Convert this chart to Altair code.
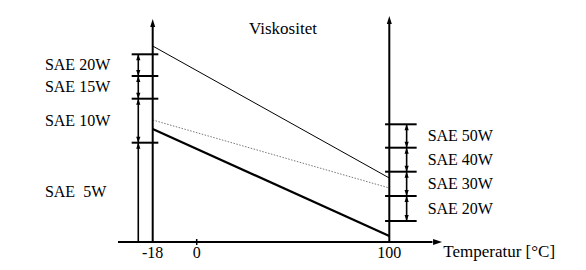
import altair as alt
import pandas as pd

# ---- chart values (schematic units) ----
temps = [-18, 100]
thin_line = [196, 64]
dotted_line = [122, 54]
thick_line = [113, 6]

tick_values = [-18, 0, 100]
tick_labels = ["-18", "0", "100"]

left_grades = ["SAE 20W", "SAE 15W", "SAE 10W", "SAE\u00a0\u00a05W"]
left_bounds = [187.7, 166, 143.3, 99.3, 0]
right_grades = ["SAE 50W", "SAE 40W", "SAE 30W", "SAE 20W"]
right_bounds = [117.7, 94.3, 70.3, 46, 21]

title_text = "Viskositet"
x_title = "Temperatur [°C]"

# ---- schematic geometry (data units) ----
AX_LEFT_TOP, AX_RIGHT_TOP = 223, 226
H_AXIS_START, H_AXIS_END = -32.2, 127.4
LEFT_BAR_X, RIGHT_BAR_X = -23.9, 109
LEFT_TICK = (-26.6, -15.7)
RIGHT_TICK = (97.8, 114.2)
LEFT_LABEL_X, RIGHT_LABEL_X = -62.1, 119.9
XTITLE_X, XTITLE_Y = 128, -15
TICKLAB_Y = -16
TITLE_X, TITLE_Y = 44.8, 208

FONT = "'Liberation Serif', 'DejaVu Serif', serif"

XS = alt.Scale(domain=[-18, 0, 100], range=[152.7, 196.7, 389.3], nice=False, zero=False)
YS = alt.Scale(domain=[-28, 242], nice=False, zero=False)


def X(f="x"):
    return alt.X(f"{f}:Q", scale=XS, axis=None)


def Y(f="y"):
    return alt.Y(f"{f}:Q", scale=YS, axis=None)


def X2(f="x2"):
    return alt.X2(f"{f}:Q")


def Y2(f="y2"):
    return alt.Y2(f"{f}:Q")


def line_df(vals):
    return pd.DataFrame({"x": temps, "y": vals})


thin = alt.Chart(line_df(thin_line)).mark_line(color="black", strokeWidth=1).encode(x=X(), y=Y())
dotted = alt.Chart(line_df(dotted_line)).mark_line(
    color="#777777", strokeWidth=1, strokeDash=[1.5, 1.5]).encode(x=X(), y=Y())
thick = alt.Chart(line_df(thick_line)).mark_line(color="black", strokeWidth=2.2).encode(x=X(), y=Y())

# axes lines
vert_axes = pd.DataFrame({
    "x": [-18, 100], "y": [0, 0], "y2": [AX_LEFT_TOP - 5, AX_RIGHT_TOP - 5]})
vaxes = alt.Chart(vert_axes).mark_rule(color="black", strokeWidth=2).encode(x=X(), y=Y(), y2=Y2())
haxis_df = pd.DataFrame({"x": [H_AXIS_START], "x2": [H_AXIS_END - 5], "y": [0]})
haxis = alt.Chart(haxis_df).mark_rule(color="black", strokeWidth=2).encode(x=X(), x2=X2(), y=Y())
zero_tick = alt.Chart(pd.DataFrame({"x": [0], "y": [-3], "y2": [3]})).mark_rule(
    color="black", strokeWidth=1.5).encode(x=X(), y=Y(), y2=Y2())

UP_BIG = "M0,0L-0.5,1.6L0.5,1.6Z"
RIGHT_BIG = "M0,0L-1.8,-0.6L-1.8,0.6Z"
UP_SMALL = "M0,0L-0.7,2L0.7,2Z"
DOWN_SMALL = "M0,0L-0.7,-2L0.7,-2Z"

up_heads = alt.Chart(pd.DataFrame({"x": [-18, 100], "y": [AX_LEFT_TOP, AX_RIGHT_TOP]})).mark_point(
    shape=UP_BIG, size=100, filled=True, color="black", opacity=1, strokeWidth=0).encode(x=X(), y=Y())
right_head = alt.Chart(pd.DataFrame({"x": [H_AXIS_END], "y": [0]})).mark_point(
    shape=RIGHT_BIG, size=100, filled=True, color="black", opacity=1, strokeWidth=0).encode(x=X(), y=Y())

# SAE bars
bars_df = pd.DataFrame({
    "x": [LEFT_BAR_X, RIGHT_BAR_X],
    "y": [min(left_bounds), min(right_bounds)],
    "y2": [max(left_bounds), max(right_bounds)]})
bars = alt.Chart(bars_df).mark_rule(color="black", strokeWidth=1.6).encode(x=X(), y=Y(), y2=Y2())

tick_rows = []
for b in left_bounds:
    if b > 0:
        tick_rows.append({"x": LEFT_TICK[0], "x2": LEFT_TICK[1], "y": b})
for b in right_bounds:
    tick_rows.append({"x": RIGHT_TICK[0], "x2": RIGHT_TICK[1], "y": b})
ticks = alt.Chart(pd.DataFrame(tick_rows)).mark_rule(color="black", strokeWidth=2).encode(
    x=X(), x2=X2(), y=Y())

up_rows, down_rows = [], []
for i in range(len(left_grades)):
    up_rows.append({"x": LEFT_BAR_X, "y": left_bounds[i]})
    if left_bounds[i + 1] > 0:
        down_rows.append({"x": LEFT_BAR_X, "y": left_bounds[i + 1]})
for i in range(len(right_grades)):
    up_rows.append({"x": RIGHT_BAR_X, "y": right_bounds[i]})
    down_rows.append({"x": RIGHT_BAR_X, "y": right_bounds[i + 1]})
ups = alt.Chart(pd.DataFrame(up_rows)).mark_point(
    shape=UP_SMALL, size=36, filled=True, color="black", opacity=1, strokeWidth=0).encode(x=X(), y=Y())
downs = alt.Chart(pd.DataFrame(down_rows)).mark_point(
    shape=DOWN_SMALL, size=36, filled=True, color="black", opacity=1, strokeWidth=0).encode(x=X(), y=Y())

# labels
lab_rows = []
for i, g in enumerate(left_grades):
    lab_rows.append({"x": LEFT_LABEL_X, "y": (left_bounds[i] + left_bounds[i + 1]) / 2, "t": g})
for i, g in enumerate(right_grades):
    lab_rows.append({"x": RIGHT_LABEL_X, "y": (right_bounds[i] + right_bounds[i + 1]) / 2, "t": g})
labels = alt.Chart(pd.DataFrame(lab_rows)).mark_text(
    font=FONT, fontSize=16, align="left", baseline="middle", color="black").encode(
    x=X(), y=Y(), text="t:N")

ticklabs = alt.Chart(pd.DataFrame({"x": tick_values, "y": [TICKLAB_Y] * 3, "t": tick_labels})).mark_text(
    font=FONT, fontSize=16, align="center", baseline="alphabetic", color="black").encode(
    x=X(), y=Y(), text="t:N")

xtitle = alt.Chart(pd.DataFrame({"x": [XTITLE_X], "y": [XTITLE_Y], "t": [x_title]})).mark_text(
    font=FONT, fontSize=17, align="left", baseline="alphabetic", color="black").encode(
    x=X(), y=Y(), text="t:N")

title = alt.Chart(pd.DataFrame({"x": [TITLE_X], "y": [TITLE_Y], "t": [title_text]})).mark_text(
    font=FONT, fontSize=17, align="center", baseline="alphabetic", color="black").encode(
    x=X(), y=Y(), text="t:N")

chart = alt.layer(
    thin, dotted, thick, vaxes, haxis, zero_tick, up_heads, right_head,
    bars, ticks, ups, downs, labels, ticklabs, xtitle, title
).properties(
    width=586, height=270, padding=0,
    autosize=alt.AutoSizeParams(type="none"),
    background="white",
).configure_view(stroke=None)

chart.save("out.html", embed_options={"renderer": "svg", "actions": False})
